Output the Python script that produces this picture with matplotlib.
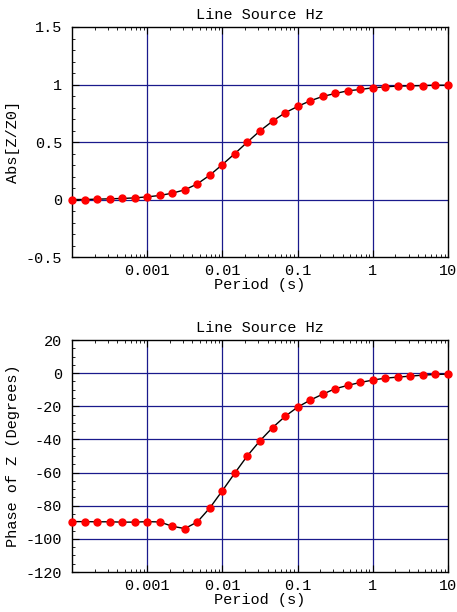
import numpy as np
import matplotlib
matplotlib.use('Agg')
import matplotlib.pyplot as plt
from matplotlib.ticker import FixedLocator, NullFormatter, LogLocator, MultipleLocator

plt.rcParams['font.family'] = ['Liberation Mono', 'DejaVu Sans Mono']
plt.rcParams['axes.unicode_minus'] = False
plt.rcParams['font.size'] = 11

# period samples: 6 per decade from 1e-4 s to 10 s
period = 10 ** (-4 + np.arange(31) / 6.0)

abs_z = [0.0, 0.0, 0.003, 0.006, 0.009, 0.014, 0.023, 0.035, 0.055, 0.084,
         0.136, 0.212, 0.304, 0.40, 0.50, 0.597, 0.681, 0.754, 0.809, 0.858,
         0.896, 0.922, 0.945, 0.957, 0.971, 0.980, 0.986, 0.988, 0.991, 0.994,
         0.994]

phase_z = [-89.6, -89.6, -89.7, -89.7, -89.9, -89.9, -89.6, -89.8, -92.4, -93.8,
           -89.8, -81.3, -70.9, -60.2, -49.8, -40.8, -32.9, -26.1, -20.5, -16.3,
           -12.7, -9.4, -7.4, -5.6, -4.2, -3.0, -2.4, -1.8, -1.2, -0.8, -0.6]

xticks = [0.001, 0.01, 0.1, 1, 10]
xticklabels = ['0.001', '0.01', '0.1', '1', '10']

title = 'Line Source Hz'
grid_col = '#1a1a8c'

fig = plt.figure(figsize=(4.57, 6.12), dpi=100)
W, H = 457.0, 612.0
ax1 = fig.add_axes([72 / W, 1 - 257 / H, (448 - 72) / W, (257 - 27) / H])
ax2 = fig.add_axes([72 / W, 1 - 572 / H, (448 - 72) / W, (572 - 340) / H])


def style(ax, y, ylabel, ylim, yticks, yminor):
    ax.set_xscale('log')
    ax.set_xlim(1e-4, 10)
    ax.set_ylim(*ylim)
    ax.xaxis.set_major_locator(FixedLocator(xticks))
    ax.set_xticklabels(xticklabels)
    ax.xaxis.set_minor_locator(LogLocator(base=10, subs=np.arange(2, 10), numticks=20))
    ax.xaxis.set_minor_formatter(NullFormatter())
    ax.yaxis.set_major_locator(FixedLocator(yticks))
    ax.yaxis.set_minor_locator(MultipleLocator(yminor))
    for v in xticks[:-1]:
        ax.axvline(v, color=grid_col, lw=0.9, zorder=1)
    for v in yticks[1:-1]:
        ax.axhline(v, color=grid_col, lw=0.9, zorder=1)
    ax.plot(period, y, color='black', lw=1.0, zorder=2)
    ax.plot(period, y, 'o', color='red', ms=5, mec='red', zorder=3, clip_on=False)
    ax.tick_params(which='both', direction='in', top=True, right=False)
    ax.tick_params(axis='y', pad=7)
    ax.tick_params(axis='x', pad=5)
    ax.tick_params(which='major', length=5, width=0.8)
    ax.tick_params(which='minor', length=2.5, width=0.6)
    ax.set_title(title, fontsize=11, pad=6)
    ax.set_xlabel('Period (s)', fontsize=11, labelpad=0)
    ax.set_ylabel(ylabel, fontsize=11, labelpad=4)
    for s in ax.spines.values():
        s.set_linewidth(1.0)


style(ax1, abs_z, 'Abs[Z/Z0]', (-0.5, 1.5), [-0.5, 0, 0.5, 1, 1.5], 0.1)
ax1.set_yticklabels(['-0.5', '0', '0.5', '1', '1.5'])
style(ax2, phase_z, 'Phase of Z (Degrees)', (-120, 20),
      [-120, -100, -80, -60, -40, -20, 0, 20], 5)

fig.savefig('out.png', dpi=100)
